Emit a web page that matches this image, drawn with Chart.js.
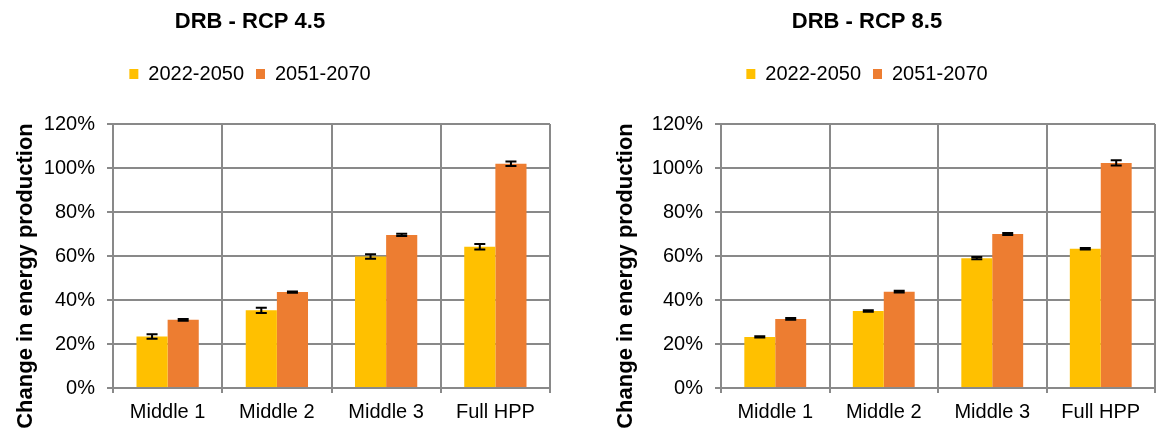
<!DOCTYPE html>
<html>
<head>
<meta charset="utf-8">
<script src="https://cdn.jsdelivr.net/npm/chart.js@4.4.1/dist/chart.umd.min.js"></script>
<style>
  html, body { margin: 0; padding: 0; background: #fff; overflow: hidden; width: 1156px; height: 432px; position: relative; }
  canvas { position: absolute; top: 0; }
  #grafico45 { left: -50px; }
  #grafico85 { left: 579px; }
</style>
</head>
<body>
<canvas id="grafico45" width="602" height="432"></canvas>
<canvas id="grafico85" width="578" height="432"></canvas>
<script>
const categorias = ["Middle 1", "Middle 2", "Middle 3", "Full HPP"];
const periodos = ["2022-2050", "2051-2070"];
const ticksY = [0, 20, 40, 60, 80, 100, 120];

// RCP 4.5 (% change)
const rcp45Cercano = [23.4, 35.3, 59.8, 64.2];
const rcp45Lejano = [31.0, 43.6, 69.6, 101.9];
const rcp45ErrCercano = [1.0, 1.2, 1.0, 1.3];
const rcp45ErrLejano = [0.4, 0.3, 0.5, 1.0];

// RCP 8.5 (% change)
const rcp85Cercano = [23.2, 35.0, 59.0, 63.3];
const rcp85Lejano = [31.4, 43.8, 70.0, 102.3];
const rcp85ErrCercano = [0.3, 0.3, 0.5, 0.3];
const rcp85ErrLejano = [0.4, 0.4, 0.4, 1.2];

const colores = ["#FFC000", "#ED7D31"];
const gris = "#898989";

Chart.defaults.font.family = '"Liberation Sans", Arial, sans-serif';
Chart.defaults.color = "#000";

const barrasError = {
    id: "barrasError",
    afterDatasetsDraw(chart) {
        const ctx = chart.ctx;
        const y = chart.scales.y;
        ctx.save();
        ctx.strokeStyle = "#000";
        ctx.lineWidth = 2;
        chart.data.datasets.forEach((ds, i) => {
            chart.getDatasetMeta(i).data.forEach((bar, j) => {
                const v = ds.data[j], e = ds.errores[j];
                const arriba = y.getPixelForValue(v + e);
                const abajo = y.getPixelForValue(v - e);
                const x = bar.x, w = 5.5;
                ctx.beginPath();
                ctx.moveTo(x, arriba); ctx.lineTo(x, abajo);
                ctx.moveTo(x - w, arriba); ctx.lineTo(x + w, arriba);
                ctx.moveTo(x - w, abajo); ctx.lineTo(x + w, abajo);
                ctx.stroke();
            });
        });
        ctx.restore();
    }
};

const tituloEje = {
    id: "tituloEje",
    afterDraw(chart, args, opts) {
        const ctx = chart.ctx;
        ctx.save();
        ctx.translate(opts.x, opts.y);
        ctx.rotate(-Math.PI / 2);
        ctx.font = 'bold 22px "Liberation Sans", Arial, sans-serif';
        ctx.fillStyle = "#000";
        ctx.textAlign = "center";
        ctx.textBaseline = "middle";
        ctx.fillText(opts.text, 0, 0);
        ctx.restore();
    }
};

function creaGrafico(id, titulo, cercano, lejano, errCercano, errLejano, anchoEje, xTitulo) {
    const ctx = document.getElementById(id).getContext("2d");
    return new Chart(ctx, {
        type: "bar",
        data: {
            labels: categorias,
            datasets: [
                { label: periodos[0], data: cercano, errores: errCercano, backgroundColor: colores[0], borderWidth: 0 },
                { label: periodos[1], data: lejano, errores: errLejano, backgroundColor: colores[1], borderWidth: 0 }
            ]
        },
        options: {
            responsive: false,
            animation: false,
            datasets: { bar: { categoryPercentage: 0.57, barPercentage: 1 } },
            layout: { padding: { top: 0, right: 2, bottom: 0, left: 0 } },
            plugins: {
                title: {
                    display: true,
                    text: titulo,
                    color: "#000",
                    font: { size: 22, weight: "bold" },
                    padding: { top: 9, bottom: 16.6 }
                },
                subtitle: { display: true, text: "", weight: 100, padding: 0, font: { size: 25 } },
                legend: {
                    labels: { color: "#000", font: { size: 20 }, boxWidth: 9, boxHeight: 10, padding: 12 }
                },
                tooltip: { enabled: false },
                tituloEje: { text: "Change in energy production", x: xTitulo, y: 276 }
            },
            scales: {
                x: {
                    grid: { color: gris, lineWidth: 2, tickLength: 5, offset: true },
                    border: { color: gris, width: 2 },
                    ticks: { color: "#000", font: { size: 20 }, padding: 7 },
                    afterFit: s => { s.height = 44; }
                },
                y: {
                    min: 0,
                    max: 120,
                    grid: { color: gris, lineWidth: 2, tickLength: 6 },
                    border: { color: gris, width: 2 },
                    ticks: { color: "#000", font: { size: 20 }, padding: 12, callback: v => v + "%" },
                    afterBuildTicks: s => { s.ticks = ticksY.map(v => ({ value: v })); },
                    afterFit: s => { s.width = anchoEje; }
                }
            }
        },
        plugins: [barrasError, tituloEje]
    });
}

const grafico45 = creaGrafico("grafico45", "DRB - RCP 4.5", rcp45Cercano, rcp45Lejano, rcp45ErrCercano, rcp45ErrLejano, 163, 75.5);
const grafico85 = creaGrafico("grafico85", "DRB - RCP 8.5", rcp85Cercano, rcp85Lejano, rcp85ErrCercano, rcp85ErrLejano, 142, 46.5);
</script>
</body>
</html>
